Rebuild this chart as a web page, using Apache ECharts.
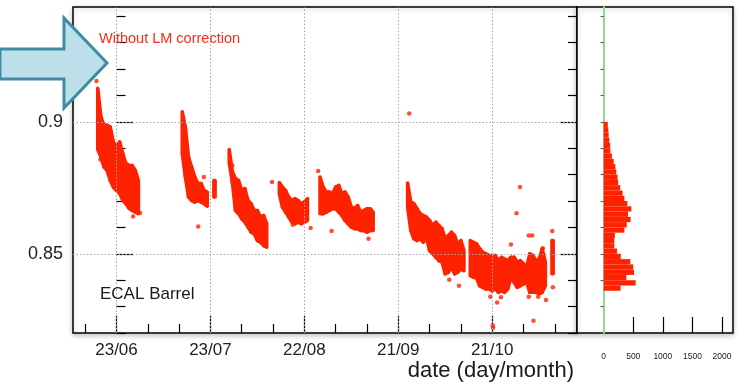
<!DOCTYPE html>
<html><head><meta charset="utf-8">
<script src="https://cdn.jsdelivr.net/npm/echarts@6/dist/echarts.min.js"></script>
<style>html,body{margin:0;padding:0;background:#fff}#c{width:738px;height:386px}</style>
</head><body><div id="c"></div>
<script>
// ---- data (day offset from 23/06, value) ----
const bandDay = [-6,-5,-4,-3,-2,-1,0,1,2,3,4,5,6,7,
  21,22,23,24,25,26,27,28,29,31.3,
  36,37,38,39,40,41,42,43,44,45,46,47,48,
  52,53,54,55,56,57,58,59,60,61,
  65,66,67,68,69,70,71,72,73,74,75,76,77,78,79,80,81,82,
  93,94,95,96,97,98,99,100,101,102,103,104,105,106,107,108,109,110,111,
  113,114,115,116,117,118,119,120,121,122,123,124,125,
  126,127,128,129,130,131,
  132,133,134,135,136,137,139.3];
const bandHigh = [0.9127,0.902,0.8987,0.8987,0.898,0.8924,0.8905,0.8924,0.888,0.8842,0.8835,0.8835,0.8816,0.8778,
  0.9038,0.898,0.8867,0.8829,0.8791,0.8766,0.8766,0.874,0.8734,0.8778,
  0.8895,0.8812,0.8785,0.8778,0.874,0.8747,0.8702,0.869,0.8664,0.8664,0.8639,0.8645,0.8614,
  0.877,0.8753,0.874,0.8715,0.8702,0.8709,0.8702,0.869,0.8696,0.8709,
  0.8791,0.8753,0.8734,0.8734,0.8728,0.8753,0.8759,0.8728,0.8734,0.8715,0.8677,0.8671,0.8683,0.8658,0.8664,0.8671,0.8671,0.8658,
  0.8768,0.8696,0.869,0.8671,0.8652,0.8645,0.8639,0.8626,0.8607,0.862,0.8607,0.8595,0.8557,0.8569,0.8582,0.8569,0.8538,0.855,0.8512,
  0.855,0.8544,0.8538,0.8519,0.8506,0.85,0.8494,0.8494,0.8494,0.8474,0.8487,0.848,0.8474,
  0.8487,0.8487,0.8468,0.8474,0.8462,0.8449,
  0.85,0.8494,0.8474,0.848,0.8519,0.8468,0.855];
const bandLow = [0.8895,0.8867,0.8829,0.8816,0.8778,0.8753,0.874,0.8729,0.8702,0.869,0.8672,0.8664,0.8658,0.8652,
  0.888,0.8791,0.8715,0.8702,0.8696,0.8702,0.8696,0.869,0.868,0.8715,
  0.8845,0.877,0.8664,0.8652,0.8633,0.862,0.8601,0.8582,0.8576,0.855,0.8544,0.8531,0.8525,
  0.8728,0.8677,0.8658,0.8639,0.862,0.8614,0.862,0.8614,0.862,0.8626,
  0.8652,0.8652,0.8658,0.8664,0.8671,0.8671,0.8658,0.8645,0.8626,0.8614,0.8601,0.8595,0.8595,0.8588,0.8588,0.8582,0.8588,0.8588,
  0.8677,0.8588,0.8557,0.855,0.8557,0.8544,0.8563,0.8512,0.85,0.8487,0.8474,0.8468,0.8424,0.843,0.8449,0.8424,0.843,0.8442,0.8436,
  0.8417,0.8411,0.8408,0.8379,0.8373,0.8367,0.8367,0.836,0.8367,0.8354,0.836,0.8354,0.8367,
  0.8411,0.8392,0.8373,0.8379,0.8386,0.8392,
  0.8354,0.8354,0.8354,0.8348,0.8354,0.8379,0.8424];
const outDay = [-6.4,-5.1,5.3,7.5,26.1,27.9,37,49.7,56.3,62,64.4,68.7,80.5,93.5,106.3,109.4,119.4,120.2,120.3,121.6,122.8,126,127.8,128.9,131.7,131.7,132.8,133.2,134.7,136.2,137.2,139.2,139.4];
const outVal = [0.9155,0.8857,0.8641,0.8655,0.8603,0.8791,0.8835,0.8772,0.861,0.8598,0.8814,0.8586,0.8557,0.9032,0.8402,0.8379,0.8337,0.8228,0.822,0.8316,0.8335,0.8535,0.8654,0.8753,0.8569,0.8337,0.8569,0.8246,0.8337,0.8521,0.8325,0.8586,0.8373];

const xTickDays = [0,30,60,90,120];
const xTickLabels = ['23/06','23/07','22/08','21/09','21/10'];
const xMinorDays = [-10,10,20,40,50,70,80,100,110,130,140];
const yMajor = [0.85,0.9];
const yMajorLabels = ['0.85','0.9'];
const yMinor = [0.82,0.83,0.84,0.86,0.87,0.88,0.89,0.91,0.92,0.93,0.94];
const yAll = [0.82,0.83,0.84,0.85,0.86,0.87,0.88,0.89,0.9,0.91,0.92,0.93,0.94];

const histLow = [0.836,0.838,0.840,0.842,0.844,0.846,0.848,0.850,0.852,0.854,0.856,0.858,0.860,0.862,0.864,0.866,
  0.868,0.870,0.872,0.874,0.876,0.878,0.880,0.882,0.884,0.886,0.888,0.890,0.892,0.894,0.896,0.898];
const histCount = [287,541,383,513,500,451,290,225,180,180,190,350,390,456,411,468,
  400,350,320,280,245,235,214,198,170,140,113,110,96,85,80,70];
const histBinWidth = 0.002;
const histTicks = [0,500,1000,1500,2000];
const histTickLabels = ['0','500','1000','1500','2000'];
const histMajorTicks = [500,1000,1500,2000];

const X_MIN = -13.9, X_MAX = 147.1, Y_MIN = 0.82, Y_MAX = 0.9435, H_MIN = -450, H_MAX = 2185;
const RED = '#ff2200';
const FONT = 'Liberation Sans, Arial, sans-serif';
const JOIN_GAP = 1.6;

const chart = echarts.init(document.getElementById('c'));
const hidden = {axisLine:{show:false}, axisLabel:{show:false}, splitLine:{show:false}};
function findLabel(vals, labels, v){ for (let i=0;i<vals.length;i++) if (Math.abs(vals[i]-v)<1e-9) return labels[i]; return ''; }

function bandItem(params, api){
  const i = params.dataIndex;
  const x = bandDay[i];
  const hasNext = i+1 < bandDay.length && bandDay[i+1]-x <= JOIN_GAP;
  const hasPrev = i > 0 && x-bandDay[i-1] <= JOIN_GAP;
  const st = {fill:RED, stroke:RED, lineWidth:3.5, lineJoin:'round'};
  if (hasNext) {
    const a = api.coord([x, bandHigh[i]]), b = api.coord([bandDay[i+1], bandHigh[i+1]]);
    const c = api.coord([bandDay[i+1], bandLow[i+1]]), d = api.coord([x, bandLow[i]]);
    return {type:'polygon', shape:{points:[a,b,c,d]}, style:st};
  }
  if (!hasPrev) {
    const p1 = api.coord([x-0.2, bandHigh[i]]), p2 = api.coord([x+0.2, bandLow[i]]);
    return {type:'rect', shape:{x:p1[0], y:p1[1], width:p2[0]-p1[0], height:p2[1]-p1[1]}, style:st};
  }
  return null;
}

chart.setOption({
  animation:false,
  backgroundColor:'#fff',
  grid:[
    {left:73, top:7, width:504, height:326, show:true, borderColor:'#000', borderWidth:1.5, backgroundColor:'#fff',
     shadowColor:'rgba(0,0,0,0.22)', shadowBlur:5, shadowOffsetY:2},
    {left:577, top:7, width:156, height:326, show:true, borderColor:'#000', borderWidth:1.5, backgroundColor:'#fff',
     shadowColor:'rgba(0,0,0,0.22)', shadowBlur:5, shadowOffsetY:2}
  ],
  xAxis:[
    {gridIndex:0, type:'value', min:X_MIN, max:X_MAX, position:'bottom',
     axisLine:{show:false}, splitLine:{show:false},
     axisTick:{show:true, inside:true, length:17, customValues:xTickDays, lineStyle:{color:'#000', width:1.2}},
     axisLabel:{show:true, customValues:xTickDays, formatter:v=>findLabel(xTickDays,xTickLabels,v), fontSize:17, color:'#222', margin:9, fontFamily:FONT}},
    Object.assign({gridIndex:0, type:'value', min:X_MIN, max:X_MAX, position:'bottom',
     axisTick:{show:true, inside:true, length:9, customValues:xMinorDays, lineStyle:{color:'#000', width:1.2}}}, hidden),
    {gridIndex:1, type:'value', min:H_MIN, max:H_MAX, position:'bottom',
     axisLine:{show:false}, splitLine:{show:false},
     axisTick:{show:true, inside:true, length:16, customValues:histMajorTicks, lineStyle:{color:'#000', width:1.2}},
     axisLabel:{show:true, customValues:histTicks, formatter:v=>findLabel(histTicks,histTickLabels,v), fontSize:8.5, color:'#222', margin:19, fontFamily:FONT}}
  ],
  yAxis:[
    {gridIndex:0, type:'value', min:Y_MIN, max:Y_MAX, position:'left',
     axisLine:{show:false}, splitLine:{show:false},
     axisTick:{show:true, inside:true, length:17, customValues:yMajor, lineStyle:{color:'#000', width:1.2}},
     axisLabel:{show:true, customValues:yMajor, formatter:v=>findLabel(yMajor,yMajorLabels,v), fontSize:18, color:'#222', margin:10, fontFamily:FONT}},
    Object.assign({gridIndex:0, type:'value', min:Y_MIN, max:Y_MAX, position:'left',
     axisTick:{show:true, inside:true, length:9, customValues:yMinor, lineStyle:{color:'#000', width:1.2}}}, hidden),
    Object.assign({gridIndex:0, type:'value', min:Y_MIN, max:Y_MAX, position:'right',
     axisTick:{show:true, inside:true, length:17, customValues:yMajor, lineStyle:{color:'#000', width:1.2}}}, hidden),
    Object.assign({gridIndex:0, type:'value', min:Y_MIN, max:Y_MAX, position:'right',
     axisTick:{show:true, inside:true, length:9, customValues:yMinor, lineStyle:{color:'#000', width:1.2}}}, hidden),
    {gridIndex:1, type:'value', min:Y_MIN, max:Y_MAX, position:'left',
     axisLine:{show:true, onZero:true, lineStyle:{color:'#8fdc8f', width:2}},
     axisTick:{show:true, inside:false, length:3, customValues:yAll, lineStyle:{color:'#555', width:1}},
     axisLabel:{show:false}, splitLine:{show:false}}
  ],
  series:[
    {type:'custom', xAxisIndex:0, yAxisIndex:0, z:2, clip:true,
     data: bandDay.map((d,i)=>[d, bandHigh[i], bandLow[i]]),
     encode:{x:0, y:[1,2]},
     renderItem:bandItem},
    {type:'scatter', xAxisIndex:0, yAxisIndex:0, z:3, symbol:'circle', symbolSize:4.5,
     itemStyle:{color:RED}, data: outDay.map((d,i)=>[d, outVal[i]]),
     markLine:{silent:true, symbol:'none', animation:false, label:{show:false},
       lineStyle:{color:'#a8a8a8', width:1, type:[1.5,2]},
       data:[...xTickDays.map(d=>({xAxis:d})), ...yMajor.map(v=>({yAxis:v}))]}},
    {type:'custom', xAxisIndex:2, yAxisIndex:4, z:2,
     data: histLow.map((lo,i)=>[histCount[i], lo]),
     encode:{x:0, y:1},
     renderItem:(params, api)=>{
       const c = api.value(0), lo = api.value(1);
       const p1 = api.coord([0, lo + histBinWidth]);
       const p2 = api.coord([c, lo]);
       return {type:'rect', shape:{x:p1[0], y:p1[1], width:p2[0]-p1[0], height:p2[1]-p1[1]}, style:{fill:RED}};
     }}
  ],
  graphic:[
    {type:'text', left:99, top:31, z:10, style:{text:'Without LM correction', fill:'#ff2a1a', font:'14.5px '+FONT}},
    {type:'text', left:100, top:286, z:10, style:{text:'ECAL Barrel', fill:'#1a1a1a', font:'17px '+FONT}},
    {type:'text', right:164, top:360, z:10, style:{text:'date (day/month)', fill:'#1a1a1a', font:'22px '+FONT}},
    {type:'polygon', z:20, shape:{points:[[0,49],[64,49],[64,18],[107,63],[64,108],[64,79],[0,79]]},
     style:{fill:'#bcdfe9', stroke:'#3d8ca0', lineWidth:3}}
  ]
});
</script></body></html>
